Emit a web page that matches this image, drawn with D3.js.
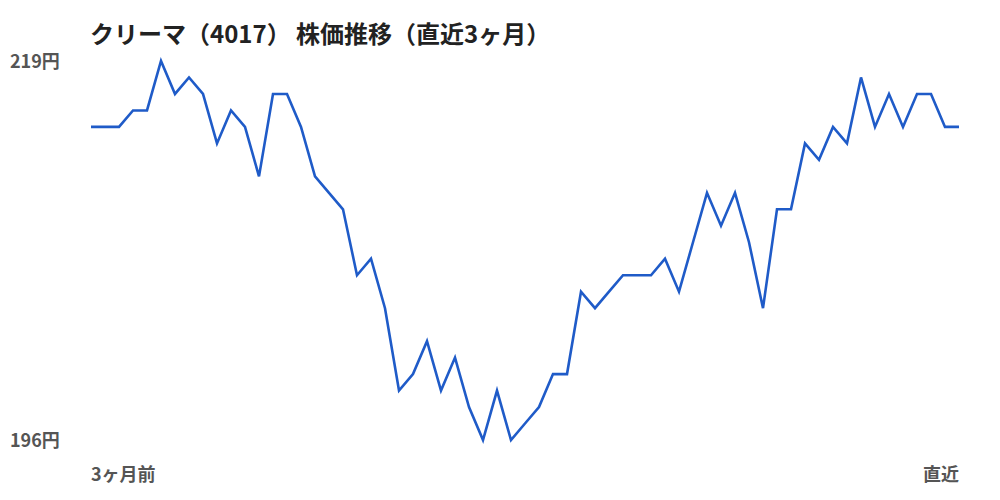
<!DOCTYPE html>
<html><head><meta charset="utf-8">
<script src="https://cdn.jsdelivr.net/npm/d3@7"></script>
<style>body{margin:0;background:#fff}svg{display:block}</style>
</head><body><svg id="c" width="1000" height="500"></svg>
<script>
const title = "クリーマ（4017） 株価推移（直近3ヶ月）";
const prices = [215,215,215,216,216,219,217,218,217,214,216,215,212,217,217,215,212,211,210,206,207,204,199,200,202,199,201,198,196,199,196,197,198,200,200,205,204,205,206,206,206,207,205,208,211,209,211,208,204,210,210,214,213,215,214,218,215,217,215,217,217,215,215];
const yTickValues = [196, 219];
const yTickSuffix = "円";
const xLabels = ["3ヶ月前", "直近"];

const svg = d3.select("#c");
const font = "'Noto Sans CJK JP','Noto Sans',sans-serif";
const x = d3.scaleLinear().domain([0, prices.length - 1]).range([91, 959]);
const y = d3.scaleLinear().domain([196, 219]).range([440, 61]);

svg.append("text").attr("x", 90).attr("y", 43)
  .attr("font-family", font).attr("font-size", 24).attr("font-weight", 700)
  .attr("fill", "#222").text(title);

const yAxis = svg.append("g").attr("transform", "translate(10,0)")
  .call(d3.axisRight(y).tickValues(yTickValues).tickSize(0).tickFormat(d => d + yTickSuffix));
yAxis.select(".domain").remove();
yAxis.selectAll("text").attr("x", 0).attr("dy", "0.35em")
  .attr("font-family", font).attr("font-size", 18).attr("font-weight", 700).attr("fill", "#555");

const xs = d3.scalePoint().domain(xLabels).range([91, 959]);
svg.selectAll(".xl").data(xLabels).enter().append("text")
  .attr("x", d => xs(d)).attr("y", 481)
  .attr("text-anchor", (d, i) => i === 0 ? "start" : "end")
  .attr("font-family", font).attr("font-size", 18).attr("font-weight", 700)
  .attr("fill", "#555").text(d => d);

svg.append("path").datum(prices)
  .attr("fill", "none").attr("stroke", "#1f5bc8").attr("stroke-width", 2.6)
  .attr("stroke-linejoin", "miter")
  .attr("d", d3.line().x((d, i) => x(i)).y(d => y(d)));
</script></body></html>
